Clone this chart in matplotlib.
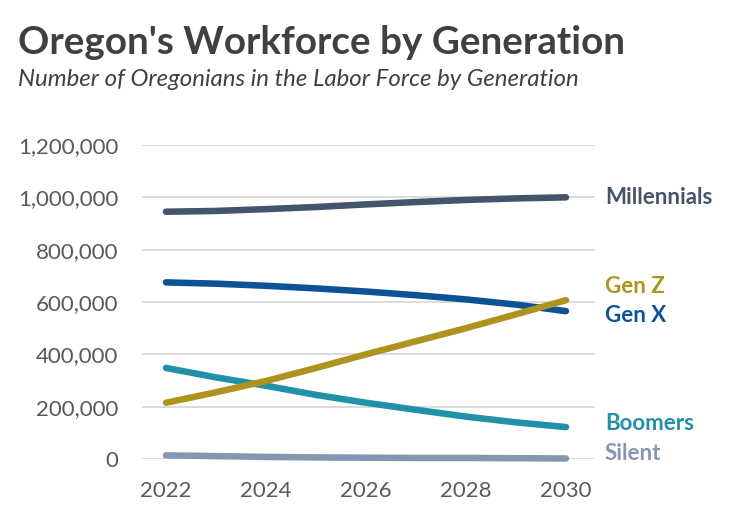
import matplotlib
matplotlib.use("Agg")
import matplotlib.pyplot as plt
from matplotlib.ticker import FuncFormatter

YEARS = [2022, 2023, 2024, 2025, 2026, 2027, 2028, 2029, 2030]
MILLENNIALS = [945e3, 948e3, 955e3, 963e3, 973e3, 982e3, 990e3, 996e3, 1000e3]
GEN_X = [675e3, 670e3, 662e3, 652e3, 640e3, 626e3, 610e3, 590e3, 565e3]
GEN_Z = [215e3, 255e3, 298e3, 348e3, 400e3, 450e3, 500e3, 553e3, 607e3]
BOOMERS = [348e3, 312e3, 280e3, 245e3, 215e3, 188e3, 162e3, 140e3, 122e3]
SILENT = [14e3, 11e3, 8e3, 6e3, 5e3, 4e3, 4e3, 3e3, 2e3]

NAMES = ["Millennials", "Gen Z", "Gen X", "Boomers", "Silent"]
SERIES = [MILLENNIALS, GEN_Z, GEN_X, BOOMERS, SILENT]
COLORS = ["#44546A", "#AE931F", "#0B5394", "#2190A9", "#8497B0"]
LABEL_Y = [1000e3, 660e3, 550e3, 135e3, 22e3]  # label anchor in data units

plt.rcParams["font.family"] = ["Lato", "DejaVu Sans"]

fig = plt.figure(figsize=(7.4, 5.29), dpi=100)
ax = fig.add_axes([142 / 740, 1 - 459 / 529, 453 / 740, 314 / 529])

for vals, c in zip(SERIES[::-1], COLORS[::-1]):
    ax.plot(YEARS, vals, color=c, lw=4.7, solid_capstyle="round", clip_on=False, zorder=3)

for name, c, ly in zip(NAMES, COLORS, LABEL_Y):
    ax.text(2030.78, ly, name, color=c, fontsize=16, fontweight="bold",
            va="center", ha="left", clip_on=False)

ax.set_xlim(2021.52, 2030.58)
ax.set_ylim(0, 1.2e6)
ax.set_xticks([2022, 2024, 2026, 2028, 2030])
ax.set_yticks(range(0, 1200001, 200000))
ax.yaxis.set_major_formatter(FuncFormatter(lambda v, p: f"{int(v):,}"))
ax.grid(axis="y", color="#D9D9D9", lw=1.3, zorder=0)
ax.tick_params(length=0, labelsize=16, labelcolor="#595959")
ax.tick_params(axis="y", pad=17)
ax.tick_params(axis="x", pad=16)
for s in ax.spines.values():
    s.set_visible(False)

fig.text(18 / 740, 1 - 54 / 529, "Oregon's Workforce by Generation", fontsize=27.8,
         fontweight="bold", color="#404040", ha="left", va="baseline")
fig.text(18 / 740, 1 - 86 / 529, "Number of Oregonians in the Labor Force by Generation",
         fontsize=17.3, style="italic", color="#404040", ha="left", va="baseline")

fig.savefig("out.png", dpi=100, facecolor="white")
